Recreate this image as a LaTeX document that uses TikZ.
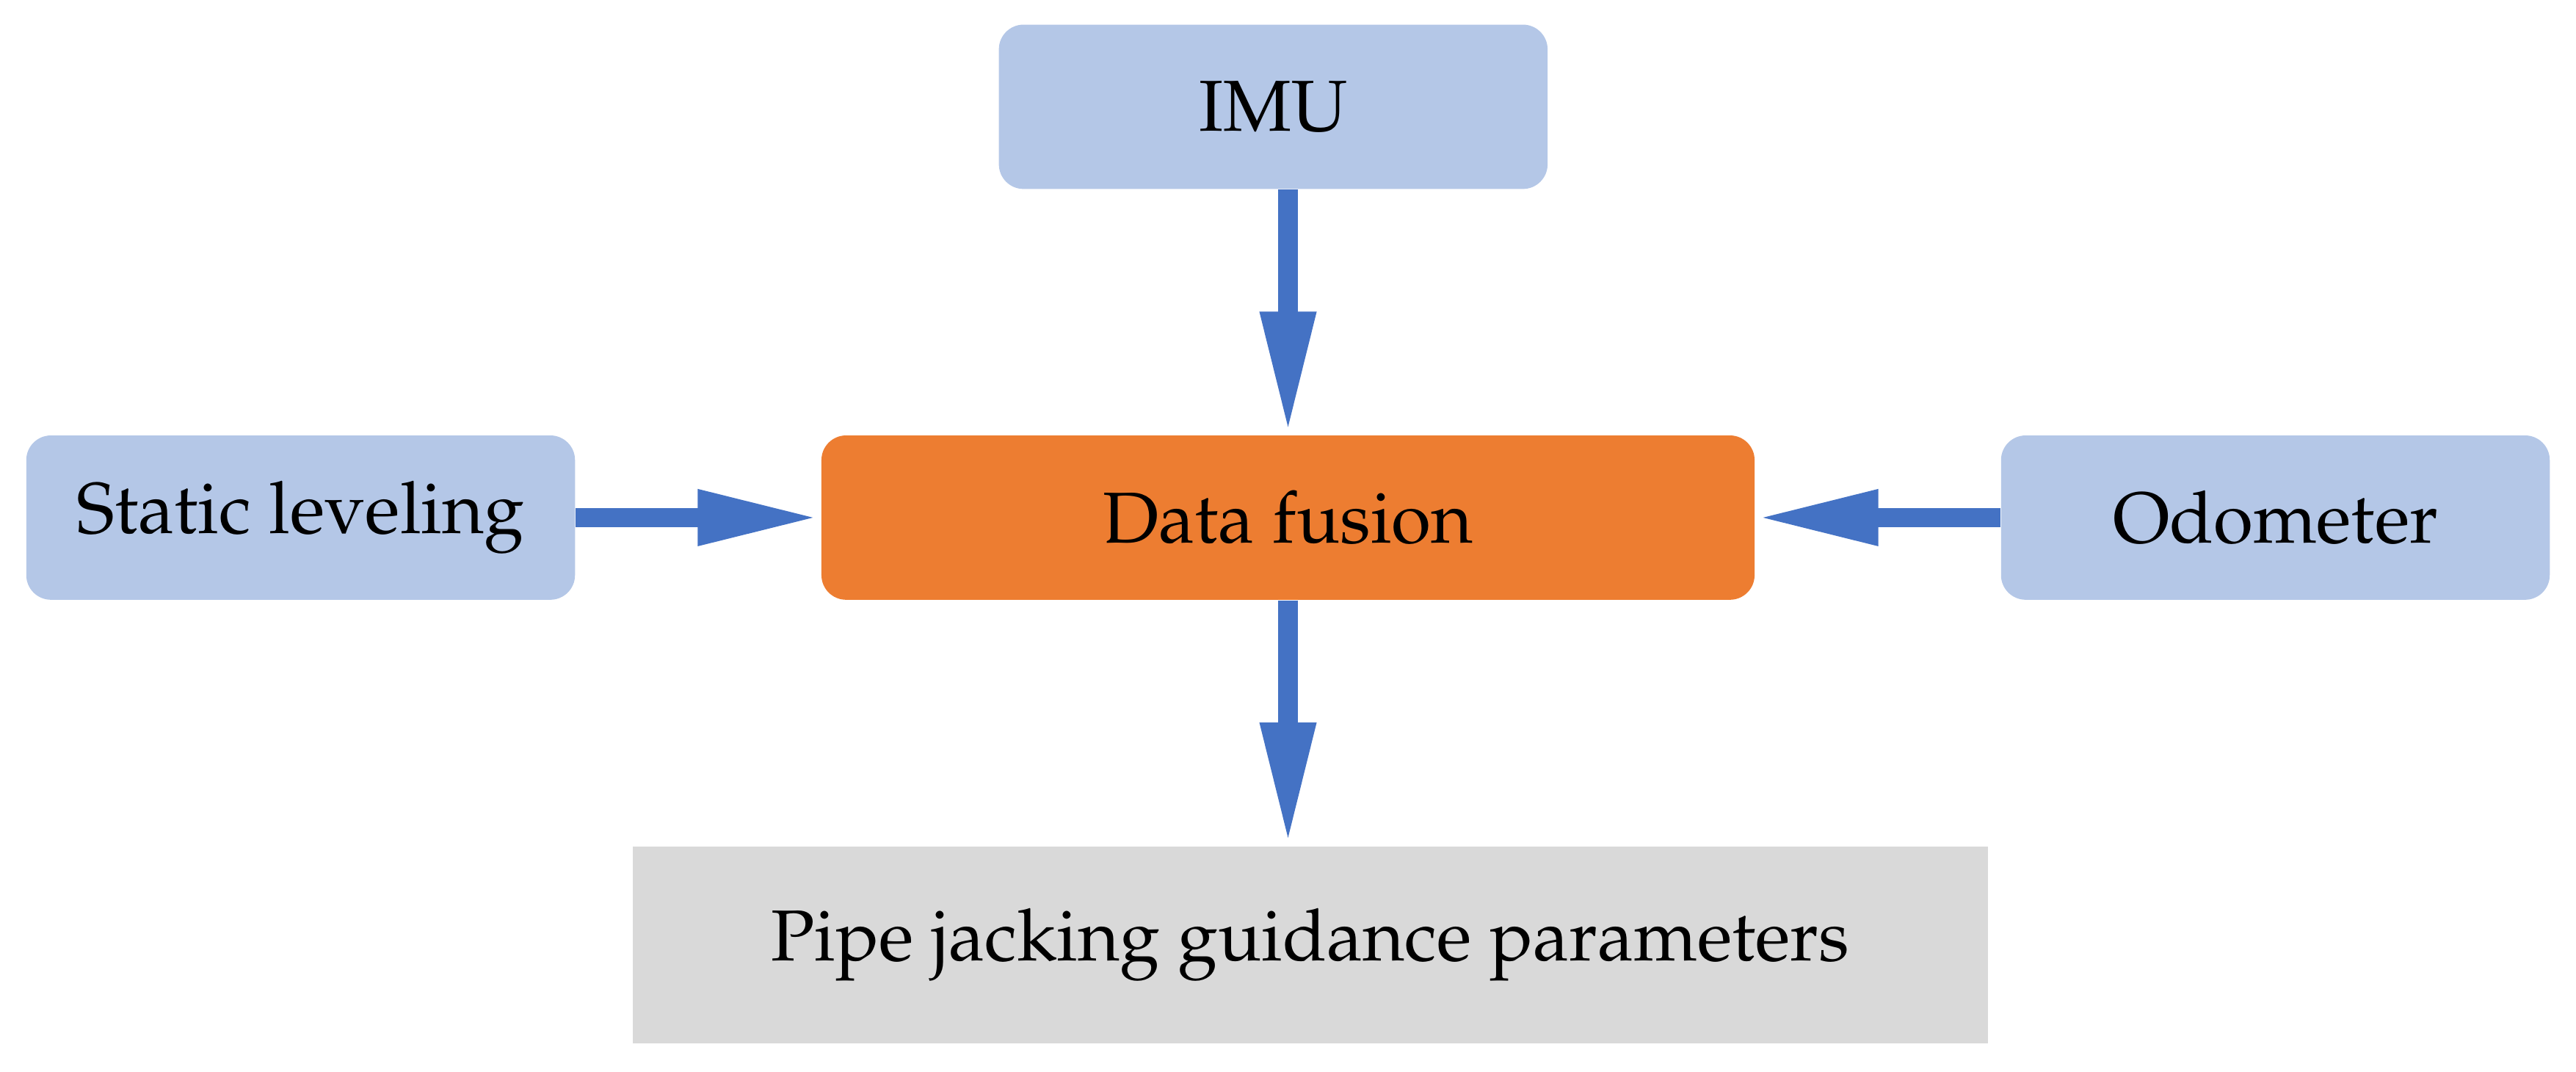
\documentclass[tikz,border=0pt]{standalone}
\usepackage[T1]{fontenc}
\usepackage{mathpazo}
\usetikzlibrary{arrows.meta}
\definecolor{lightblue}{HTML}{B4C7E7}
\definecolor{fusionorange}{HTML}{ED7D31}
\definecolor{paramgray}{HTML}{D9D9D9}
\definecolor{flowblue}{HTML}{4472C4}
\begin{document}
\begin{tikzpicture}[
  box/.style={rounded corners=0.3cm, minimum height=2cm, inner sep=0pt,
    font=\fontsize{25}{30}\selectfont},
  sensor/.style={box, fill=lightblue, minimum width=6.68cm},
  flow/.style={draw=flowblue, line width=0.24cm,
    -{Triangle[length=1.5cm,width=0.62cm]}}
]

\useasboundingbox (0,0) rectangle (31.36,13.04);

\node[sensor] (imu) at (15.5,11.74) {IMU};
\node[sensor] (static) at (3.66,6.74) {Static leveling};
\node[box, fill=fusionorange, minimum width=11.36cm] (fusion) at (15.68,6.74) {Data fusion};
\node[sensor] (odo) at (27.7,6.74) {Odometer};
\node[box, rounded corners=0pt, fill=paramgray, minimum width=16.5cm, minimum height=2.4cm]
  (param) at (15.95,1.54) {Pipe jacking guidance parameters};

\draw[flow] (imu.south -| fusion.north) -- (fusion.north);
\draw[flow] (static.east) -- (fusion.west);
\draw[flow] (odo.west) -- (fusion.east);
\draw[flow] (fusion.south) -- (fusion.south |- param.north);

\end{tikzpicture}
\end{document}
